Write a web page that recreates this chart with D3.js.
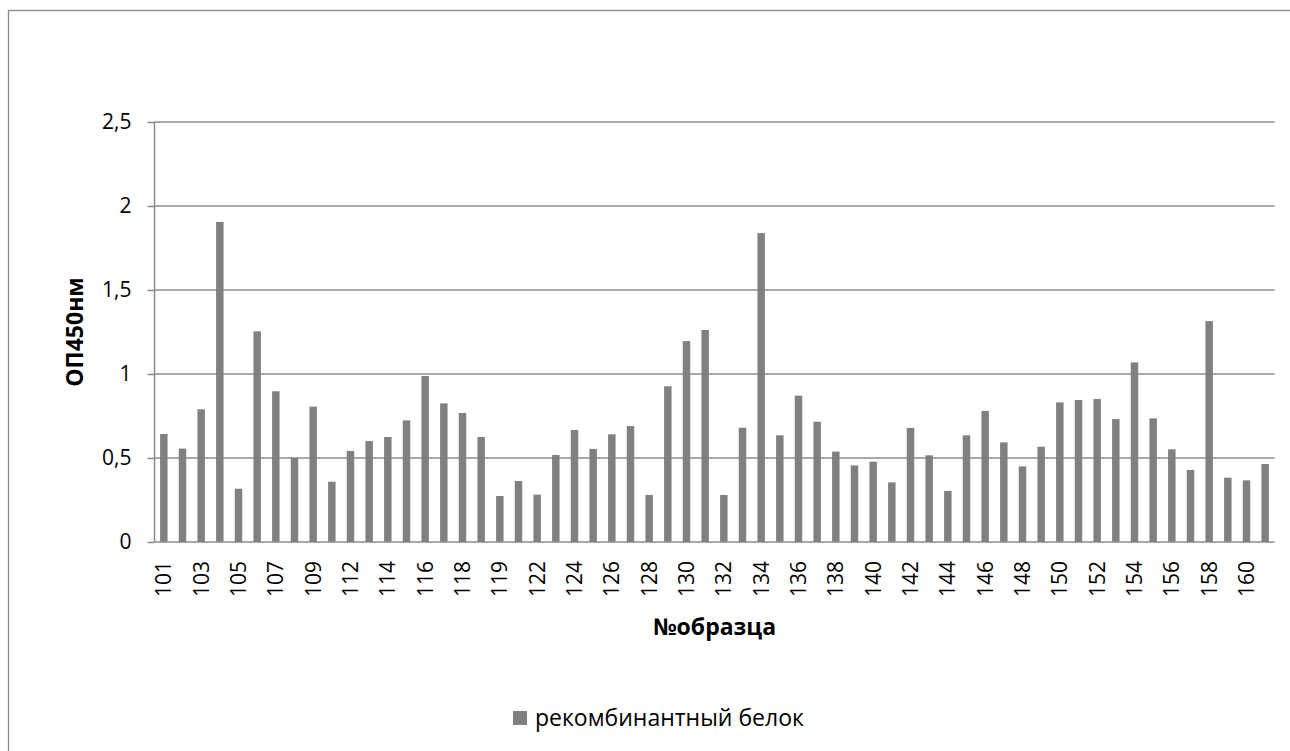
<!DOCTYPE html>
<html>
<head>
<meta charset="utf-8">
<script src="https://cdn.jsdelivr.net/npm/d3@7"></script>
<style>
  html, body { margin: 0; padding: 0; background: #fff; }
  svg { display: block; font-family: "Open Sans", sans-serif; }
</style>
</head>
<body>
<svg id="chart" width="1290" height="751"></svg>
<script>
// Sample numbers (every category), the subset printed on the axis, and OD450 readings
const categories = [
  "101","102","103","104","105","106","107","108","109","110",
  "112","113","114","115","116","117","118","118а","119","120",
  "122","123","124","125","126","127","128","129","130","131",
  "132","133","134","135","136","137","138","139","140","141",
  "142","143","144","145","146","147","148","149","150","151",
  "152","153","154","155","156","157","158","159","160","161"
];
const tickLabels = [
  "101","103","105","107","109","112","114","116","118","119",
  "122","124","126","128","130","132","134","136","138","140",
  "142","144","146","148","150","152","154","156","158","160"
];
const values = [
  0.643, 0.556, 0.790, 1.905, 0.317, 1.254, 0.897, 0.500, 0.806, 0.359,
  0.542, 0.601, 0.625, 0.724, 0.988, 0.825, 0.768, 0.625, 0.274, 0.363,
  0.282, 0.518, 0.667, 0.554, 0.641, 0.690, 0.280, 0.927, 1.196, 1.262,
  0.280, 0.680, 1.839, 0.635, 0.871, 0.716, 0.538, 0.456, 0.478, 0.355,
  0.679, 0.516, 0.304, 0.635, 0.780, 0.593, 0.450, 0.567, 0.831, 0.845,
  0.851, 0.732, 1.069, 0.736, 0.552, 0.429, 1.315, 0.383, 0.367, 0.464
];
const yTicks = [0, 0.5, 1, 1.5, 2, 2.5];
const seriesName = "рекомбинантный белок";
const xTitle = "№образца";
const yTitle = "ОП450нм";

const svg = d3.select("#chart");
const plot = { left: 154.5, right: 1274.5, top: 122, bottom: 542 };
const gray = "#808080";
const lineGray = "#8a8a8a";
const fmt = v => String(v).replace(".", ",");

// Outer chart frame
svg.append("rect")
  .attr("x", 8.5).attr("y", 10.5)
  .attr("width", 1300).attr("height", 800)
  .attr("fill", "none").attr("stroke", lineGray).attr("stroke-width", 1.3);

const x = d3.scaleBand()
  .domain(categories)
  .range([plot.left, plot.right])
  .paddingInner(0.6)
  .paddingOuter(0.3);

const y = d3.scaleLinear()
  .domain([0, 2.5])
  .range([plot.bottom, plot.top]);

// Horizontal gridlines with outward ticks and labels
const yAxis = d3.axisLeft(y)
  .tickValues(yTicks)
  .tickSize(7)
  .tickPadding(16)
  .tickFormat(fmt);

const gy = svg.append("g")
  .attr("transform", `translate(${plot.left},0)`)
  .call(yAxis);
gy.select(".domain").remove();
gy.selectAll(".tick line").attr("stroke", lineGray).attr("stroke-width", 1.5);
gy.selectAll(".tick text")
  .attr("fill", "#000")
  .style("font-size", "21px")
  .style("font-family", "'Open Sans', sans-serif");

svg.append("g").selectAll("line")
  .data(yTicks.filter(t => t > 0))
  .join("line")
  .attr("x1", plot.left).attr("x2", plot.right)
  .attr("y1", d => y(d)).attr("y2", d => y(d))
  .attr("stroke", lineGray).attr("stroke-width", 1.5);

// Bars
svg.append("g").selectAll("rect")
  .data(values)
  .join("rect")
  .attr("x", (d, i) => x(categories[i]))
  .attr("width", x.bandwidth())
  .attr("y", d => y(d))
  .attr("height", d => y(0) - y(d))
  .attr("fill", gray);

// Axis lines
svg.append("line")
  .attr("x1", plot.left).attr("x2", plot.left)
  .attr("y1", plot.top).attr("y2", plot.bottom)
  .attr("stroke", lineGray).attr("stroke-width", 1.5);

const xAxis = d3.axisBottom(x)
  .tickValues(tickLabels)
  .tickSize(0)
  .tickPadding(0);

const gx = svg.append("g")
  .attr("transform", `translate(0,${plot.bottom})`)
  .call(xAxis);
gx.select(".domain")
  .attr("d", `M${plot.left},0H${plot.right}`)
  .attr("stroke", lineGray).attr("stroke-width", 1.5);
gx.selectAll(".tick text")
  .attr("fill", "#000")
  .style("font-size", "21px")
  .style("font-family", "'Open Sans', sans-serif")
  .attr("text-anchor", "end")
  .attr("dy", "0.35em")
  .attr("transform", "translate(0,19) rotate(-90)")
  .attr("x", 0).attr("y", 0);

// Axis titles
svg.append("text")
  .attr("x", (plot.left + plot.right) / 2)
  .attr("y", 635)
  .attr("text-anchor", "middle")
  .style("font-size", "23px")
  .style("font-weight", "bold")
  .text(xTitle);

svg.append("text")
  .attr("transform", `translate(83,${(plot.top + plot.bottom) / 2}) rotate(-90)`)
  .attr("text-anchor", "middle")
  .style("font-size", "23px")
  .style("font-weight", "bold")
  .text(yTitle);

// Legend
const legend = svg.append("g");
legend.append("rect")
  .attr("x", 513).attr("y", 711)
  .attr("width", 14).attr("height", 14)
  .attr("fill", gray);
legend.append("text")
  .attr("x", 535).attr("y", 726)
  .style("font-size", "23px")
  .text(seriesName);
</script>
</body>
</html>
